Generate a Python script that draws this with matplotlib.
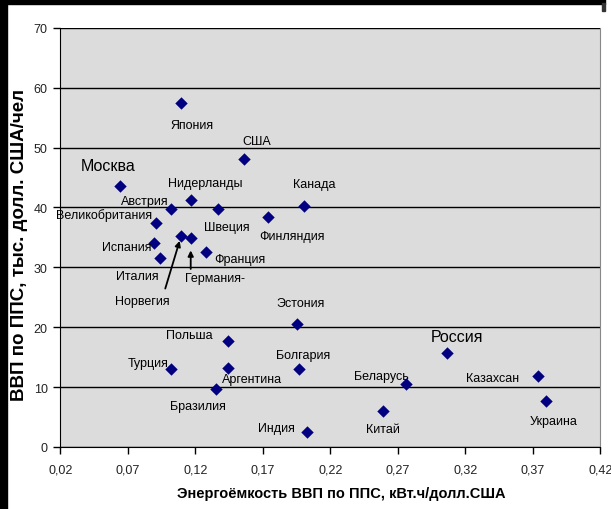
import matplotlib
matplotlib.use("Agg")
import matplotlib.pyplot as plt
from matplotlib.patches import Rectangle

countries = ["Москва", "Япония", "США", "Канада", "Финляндия", "Нидерланды", "Австрия",
             "Швеция", "Великобритания", "Норвегия", "Германия-", "Испания", "Франция",
             "Италия", "Эстония", "Польша", "Турция", "Аргентина", "Болгария", "Бразилия",
             "Индия", "Россия", "Беларусь", "Китай", "Казахсан", "Украина"]
energy = [0.0642, 0.1094, 0.1561, 0.2007, 0.1736, 0.1168, 0.1018,
          0.1370, 0.0911, 0.1096, 0.1166, 0.0894, 0.1279,
          0.0941, 0.1953, 0.1442, 0.1022, 0.1442, 0.1970, 0.1356,
          0.2030, 0.3062, 0.2759, 0.2588, 0.3736, 0.3795]
gdp = [43.6, 57.5, 48.1, 40.2, 38.4, 41.3, 39.7,
       39.7, 37.4, 35.3, 34.9, 34.1, 32.6,
       31.6, 20.5, 17.7, 13.0, 13.2, 13.1, 9.6,
       2.5, 15.7, 10.5, 6.0, 11.9, 7.6]
x_ticks = [0.02, 0.07, 0.12, 0.17, 0.22, 0.27, 0.32, 0.37, 0.42]
x_tick_labels = ["0,02", "0,07", "0,12", "0,17", "0,22", "0,27", "0,32", "0,37", "0,42"]
y_ticks = [0, 10, 20, 30, 40, 50, 60, 70]

# label offsets in pixels (dx, dy)
offsets = {
    "Москва": (-12, 20), "Япония": (11, -22), "США": (13, 18), "Канада": (10, 22),
    "Финляндия": (24, -19), "Нидерланды": (14, 17), "Австрия": (-26, 8),
    "Швеция": (9, -18), "Великобритания": (-52, 8), "Норвегия": (-39, -65),
    "Германия-": (24, -40), "Испания": (-27, -4), "Франция": (34, -7),
    "Италия": (-23, -18), "Эстония": (4, 21), "Польша": (-39, 6), "Турция": (-23, 6),
    "Аргентина": (24, -11), "Болгария": (4, 14), "Бразилия": (-18, -17),
    "Индия": (-31, 4), "Россия": (10, 16), "Беларусь": (-24, 8), "Китай": (0, -18),
    "Казахсан": (-45, -2), "Украина": (8, -20),
}
big = {"Москва", "Россия"}

FONT = ["Liberation Sans Narrow", "Liberation Sans", "DejaVu Sans"]
BOLD = ["Liberation Sans", "DejaVu Sans"]
plt.rcParams['font.family'] = FONT

fig = plt.figure(figsize=(6.11, 5.10), dpi=100)
ax = fig.add_axes([60.3 / 611, 62 / 510, 540 / 611, 419.3 / 510])
ax.set_facecolor("#DCDCDC")
ax.set_xlim(0.02, 0.42)
ax.set_ylim(0, 70)
ax.set_axisbelow(True)
ax.yaxis.grid(True, color="black", linewidth=1.0)
ax.xaxis.grid(False)

ax.scatter(energy, gdp, marker="D", s=40, color="#000080", zorder=3, linewidths=0)

for name, x, y in zip(countries, energy, gdp):
    dx, dy = offsets[name]
    ax.annotate(name, xy=(x, y), xytext=(dx, dy), textcoords="offset pixels",
                ha="center", va="center", fontsize=11.5 if name in big else 9,
                color="black", zorder=4)

# arrows for Норвегия and Германия
i_n = countries.index("Норвегия")
ax.annotate("", xy=(energy[i_n], gdp[i_n]), xytext=(-16, -53), textcoords="offset pixels",
            arrowprops=dict(arrowstyle="-|>", color="black", lw=1.3, mutation_scale=8,
                            shrinkA=0, shrinkB=4))
i_g = countries.index("Германия-")
ax.annotate("", xy=(energy[i_g], gdp[i_g]), xytext=(0, -31), textcoords="offset pixels",
            arrowprops=dict(arrowstyle="-|>", color="black", lw=1.3, mutation_scale=8,
                            shrinkA=0, shrinkB=9))

ax.set_xticks(x_ticks)
ax.set_xticklabels(x_tick_labels)
ax.set_yticks(y_ticks)
ax.tick_params(axis="both", direction="out", length=5, width=1, labelsize=9,
               colors="black", labelcolor="#222222")
ax.tick_params(axis="y", pad=4)
ax.tick_params(axis="x", pad=7)

ax.spines["top"].set_visible(False)
ax.spines["right"].set_color("#888888")
ax.spines["left"].set_color("black")
ax.spines["bottom"].set_color("black")

fig.text(341 / 611, 1 - 494 / 510, "Энергоёмкость ВВП по ППС, кВт.ч/долл.США",
         fontsize=10.5, fontweight="bold", ha="center", va="center", family=BOLD)
fig.text(20 / 611, 1 - 245 / 510, "ВВП по ППС, тыс. долл. США/чел",
         fontsize=13.5, fontweight="bold", ha="center", va="center", rotation=90,
         family=BOLD)

# black frame on left and top
fig.patches.append(Rectangle((0, 0), 7 / 611, 1, transform=fig.transFigure,
                             color="black", zorder=10))
fig.patches.append(Rectangle((0, 1 - 5 / 510), 605 / 611, 5 / 510,
                             transform=fig.transFigure, color="black", zorder=10))
fig.patches.append(Rectangle((602 / 611, 1 - 12 / 510), 3 / 611, 8 / 510,
                             transform=fig.transFigure, color="#333333", zorder=10))

fig.savefig("out.png", dpi=100)
